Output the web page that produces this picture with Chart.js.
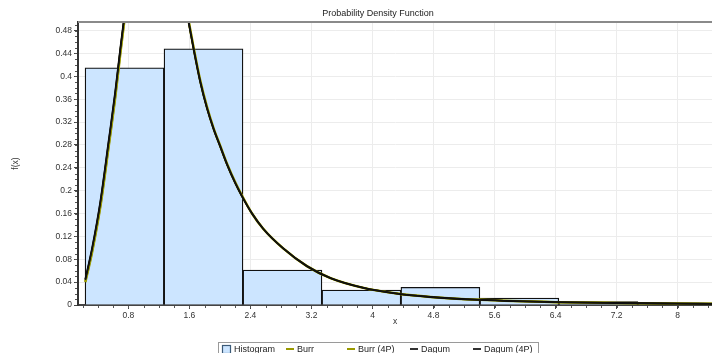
<!DOCTYPE html>
<html>
<head>
<meta charset="utf-8">
<script src="https://cdn.jsdelivr.net/npm/chart.js@4.4.1/dist/chart.umd.min.js"></script>
<style>
  html, body { margin: 0; padding: 0; background: #fff; }
  #pdfChart { display: block; }
</style>
</head>
<body>
<canvas id="pdfChart" width="712" height="353"></canvas>
<script>
// Histogram bins (centers) and their densities
const binCenters = [0.75, 1.785, 2.82, 3.855, 4.89, 5.925, 6.96, 7.995];
const binDensity = [0.415, 0.448, 0.061, 0.026, 0.031, 0.012, 0.006, 0.004];

// Fitted density curves, sampled along x
const curveX   = [0.236, 0.324, 0.433, 0.541, 0.629, 0.695, 0.738, 0.8, 0.9, 1.0, 1.1, 1.2, 1.3, 1.4, 1.5, 1.59, 1.655, 1.743, 1.831, 1.917, 2.005, 2.093, 2.202, 2.29, 2.421, 2.57, 2.83, 3.14, 3.45, 3.88, 4.32, 4.76, 5.41, 6.4, 7.2, 8.0, 8.5];
const burrY    = [0.040, 0.092, 0.172, 0.276, 0.364, 0.440, 0.487, 0.548, 0.625, 0.677, 0.698, 0.693, 0.660, 0.612, 0.557, 0.497, 0.450, 0.392, 0.346, 0.309, 0.278, 0.247, 0.214, 0.191, 0.160, 0.133, 0.099, 0.068, 0.047, 0.030, 0.020, 0.014, 0.009, 0.005, 0.0035, 0.0025, 0.002];
const burr4PY  = [0.041, 0.093, 0.173, 0.277, 0.365, 0.441, 0.488, 0.549, 0.626, 0.678, 0.699, 0.694, 0.661, 0.613, 0.557, 0.497, 0.450, 0.392, 0.346, 0.309, 0.278, 0.247, 0.214, 0.191, 0.160, 0.133, 0.099, 0.068, 0.047, 0.030, 0.020, 0.014, 0.009, 0.005, 0.0035, 0.0025, 0.002];
const dagumY   = [0.045, 0.099, 0.181, 0.286, 0.374, 0.449, 0.495, 0.555, 0.630, 0.680, 0.700, 0.695, 0.662, 0.614, 0.557, 0.495, 0.448, 0.390, 0.344, 0.308, 0.277, 0.246, 0.213, 0.190, 0.160, 0.133, 0.099, 0.068, 0.047, 0.030, 0.020, 0.014, 0.009, 0.005, 0.0035, 0.0025, 0.002];
const dagum4PY = [0.044, 0.098, 0.180, 0.285, 0.373, 0.448, 0.494, 0.554, 0.630, 0.680, 0.700, 0.695, 0.662, 0.614, 0.557, 0.495, 0.448, 0.390, 0.344, 0.308, 0.277, 0.246, 0.213, 0.190, 0.160, 0.133, 0.099, 0.068, 0.047, 0.030, 0.020, 0.014, 0.009, 0.005, 0.0035, 0.0025, 0.002];

// Axis ticks
const xTicks = [0.8, 1.6, 2.4, 3.2, 4, 4.8, 5.6, 6.4, 7.2, 8];
const yTicks = [0, 0.04, 0.08, 0.12, 0.16, 0.2, 0.24, 0.28, 0.32, 0.36, 0.4, 0.44, 0.48];

const legendLabels = ['Histogram', 'Burr', 'Burr (4P)', 'Dagum', 'Dagum (4P)'];

const X_MIN = 0.14, X_MAX = 8.45, Y_MAX = 0.495;
const FONT = '"Liberation Sans", Arial, sans-serif';
const OLIVE = '#9a9a00';
const LIGHT_BLUE = '#cce5ff';

const points = (ys) => curveX.map((x, i) => ({ x, y: ys[i] }));

// Title, top frame line, minor ticks and the boxed legend row
const decorations = {
    id: 'decorations',
    afterDraw(chart) {
        const { ctx, chartArea: area, scales } = chart;
        ctx.save();

        // top frame line
        ctx.strokeStyle = '#8a8a8a';
        ctx.lineWidth = 2;
        ctx.beginPath();
        ctx.moveTo(area.left, area.top);
        ctx.lineTo(area.right, area.top);
        ctx.stroke();

        // minor ticks
        ctx.strokeStyle = '#555';
        ctx.lineWidth = 1;
        ctx.beginPath();
        for (let v = 0.2; v < X_MAX; v += 0.2) {
            const px = Math.round(scales.x.getPixelForValue(v)) + 0.5;
            ctx.moveTo(px, area.bottom + 1);
            ctx.lineTo(px, area.bottom + 3);
        }
        for (let v = 0.01; v < Y_MAX; v += 0.01) {
            const py = Math.round(scales.y.getPixelForValue(v)) + 0.5;
            ctx.moveTo(area.left - 3, py);
            ctx.lineTo(area.left - 1, py);
        }
        ctx.stroke();

        // title
        ctx.fillStyle = '#222';
        ctx.font = '9px ' + FONT;
        ctx.textAlign = 'center';
        ctx.textBaseline = 'middle';
        ctx.fillText('Probability Density Function', 378, 14);

        // legend frame
        const lx = 218, ly = 342, lw = 320, lh = 12;
        ctx.strokeStyle = '#9a9a9a';
        ctx.lineWidth = 1;
        ctx.strokeRect(lx + 0.5, ly + 0.5, lw, lh + 2);

        const cols = [222, 286, 347, 410, 473];
        const colors = [null, OLIVE, OLIVE, '#333', '#333'];
        const cy = ly + 7;
        ctx.textAlign = 'left';
        ctx.font = '9px ' + FONT;
        legendLabels.forEach((label, i) => {
            const x = cols[i];
            if (i === 0) {
                ctx.fillStyle = LIGHT_BLUE;
                ctx.fillRect(x, cy - 4, 9, 9);
                ctx.strokeStyle = '#3b5a78';
                ctx.lineWidth = 1.2;
                ctx.strokeRect(x + 0.5, cy - 3.5, 8, 8);
                ctx.fillStyle = '#222';
                ctx.fillText(label, x + 12, cy + 1);
            } else {
                ctx.strokeStyle = colors[i];
                ctx.lineWidth = 2;
                ctx.beginPath();
                ctx.moveTo(x, cy);
                ctx.lineTo(x + 8, cy);
                ctx.stroke();
                ctx.fillStyle = '#222';
                ctx.fillText(label, x + 11, cy + 1);
            }
        });
        ctx.restore();
    }
};

const curveStyle = {
    pointRadius: 0,
    cubicInterpolationMode: 'monotone'
};

new Chart(document.getElementById('pdfChart'), {
    type: 'line',
    data: {
        datasets: [
            {
                type: 'bar',
                label: 'Histogram',
                xAxisID: 'xBins',
                data: binCenters.map((x, i) => ({ x, y: binDensity[i] })),
                backgroundColor: LIGHT_BLUE,
                borderColor: '#111',
                borderWidth: 1.3,
                barPercentage: 1,
                categoryPercentage: 1,
                grouped: false,
                order: 5
            },
            { label: 'Burr', data: points(burrY), borderColor: OLIVE, borderWidth: 2.5, order: 4, ...curveStyle },
            { label: 'Burr (4P)', data: points(burr4PY), borderColor: OLIVE, borderWidth: 2, order: 3, ...curveStyle },
            { label: 'Dagum', data: points(dagumY), borderColor: '#000', borderWidth: 1.8, order: 2, ...curveStyle },
            { label: 'Dagum (4P)', data: points(dagum4PY), borderColor: '#111', borderWidth: 1.5, order: 1, ...curveStyle }
        ]
    },
    options: {
        responsive: false,
        animation: false,
        layout: { padding: { top: 22, bottom: 21, left: 0, right: 0 } },
        plugins: {
            legend: { display: false },
            title: { display: false },
            tooltip: { enabled: false }
        },
        scales: {
            // hidden twin of x so bar widths follow the bin spacing only
            xBins: {
                type: 'linear',
                display: false,
                min: X_MIN,
                max: X_MAX,
                offset: false,
                afterBuildTicks: (scale) => { scale.ticks = []; }
            },
            x: {
                type: 'linear',
                min: X_MIN,
                max: X_MAX,
                offset: false,
                afterBuildTicks: (scale) => { scale.ticks = xTicks.map(v => ({ value: v })); },
                afterFit: (scale) => { scale.height = 27; },
                grid: {
                    color: '#ececec',
                    tickColor: '#444',
                    tickLength: 4
                },
                border: { color: '#444', width: 2 },
                ticks: {
                    color: '#333',
                    font: { family: FONT, size: 8.5 },
                    padding: 2,
                    maxRotation: 0,
                    callback: (v) => String(v)
                },
                title: {
                    display: true,
                    text: 'x',
                    color: '#333',
                    font: { family: FONT, size: 8.5 },
                    padding: { top: 0, bottom: 5 }
                }
            },
            y: {
                min: 0,
                max: Y_MAX,
                afterBuildTicks: (scale) => { scale.ticks = yTicks.map(v => ({ value: v })); },
                afterFit: (scale) => { scale.width = 78; },
                grid: {
                    color: '#ececec',
                    tickColor: '#444',
                    tickLength: 4
                },
                border: { color: '#333', width: 2 },
                ticks: {
                    color: '#333',
                    font: { family: FONT, size: 8.5 },
                    padding: 2,
                    callback: (v) => String(parseFloat(v.toFixed(2)))
                },
                title: {
                    display: true,
                    text: 'f(x)',
                    color: '#333',
                    font: { family: FONT, size: 8.5 },
                    padding: { top: 11, bottom: 0 }
                }
            }
        }
    },
    plugins: [decorations]
});
</script>
</body>
</html>
